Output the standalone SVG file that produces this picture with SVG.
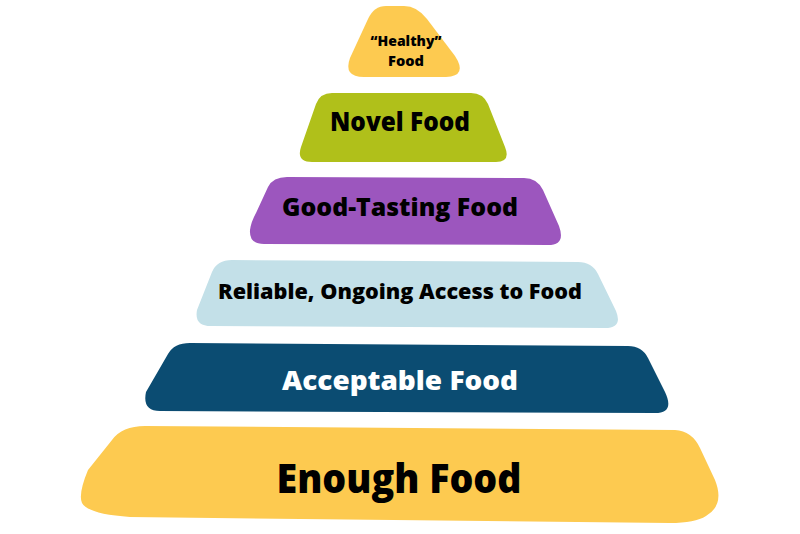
<svg xmlns="http://www.w3.org/2000/svg" width="800" height="534" viewBox="0 0 800 534">
<style>
.lbl{font-family:"Open Sans","Noto Sans","Liberation Sans",sans-serif;font-weight:800;text-anchor:middle;fill:#000000}
.yellow{fill:#FDCA50}
.green{fill:#B0C01A}
.purple{fill:#9C56BE}
.blue{fill:#C3E0E8}
.navy{fill:#0B4C72}
</style>
<rect width="800" height="534" fill="#FFFFFF"/>
<g id="healthy">
<path class="yellow" d="M 386 6 L 404 6 Q 417 6 427 19 L 455 56 Q 468 76 446 77 L 364 77 Q 343 77 350 58 L 368 19 Q 374 6 386 6 Z"/>
<text class="lbl" x="406" y="46" font-size="14.5" textLength="71" lengthAdjust="spacingAndGlyphs">“Healthy”</text>
<text class="lbl" x="406" y="66" font-size="14.5" textLength="36" lengthAdjust="spacingAndGlyphs">Food</text>
</g>
<g id="novel">
<path class="green" d="M 332 93 L 471 93 Q 483 93 488 104 L 505 147 Q 511 162 496 162 L 312 162 Q 296 162 301 147 L 316 104 Q 320 93 332 93 Z"/>
<text class="lbl" x="400" y="131" font-size="26" textLength="140" lengthAdjust="spacingAndGlyphs">Novel Food</text>
</g>
<g id="goodtasting">
<path class="purple" d="M 287 177 L 524 178 Q 537 178 543 190 L 559 226 Q 566 245 548 245 L 264 244 Q 249 244 250 230 Q 251 222 256 213 L 268 187 Q 273 177 287 177 Z"/>
<text class="lbl" x="400" y="216" font-size="25" textLength="236" lengthAdjust="spacingAndGlyphs">Good-Tasting Food</text>
</g>
<g id="reliable">
<path class="blue" d="M 232 260 L 578 262 Q 592 262 598 274 L 616 311 Q 623 328 605 328 L 211 326 Q 194 326 197 310 L 212 272 Q 217 260 232 260 Z"/>
<text class="lbl" x="400" y="299" font-size="21" textLength="364" lengthAdjust="spacingAndGlyphs">Reliable, Ongoing Access to Food</text>
</g>
<g id="acceptable">
<path class="navy" d="M 190 343 L 628 346 Q 642 346 648 358 L 665 392 Q 675 413 655 413 L 160 411 Q 142 411 146 392 L 168 354 Q 174 343 190 343 Z"/>
<text class="lbl" x="400" y="390" font-size="27" style="fill:#FFFFFF" textLength="236" lengthAdjust="spacingAndGlyphs">Acceptable Food</text>
</g>
<g id="enough">
<path class="yellow" d="M 145 426 L 675 430 Q 692 431 700 448 L 715 480 Q 725 505 706 516 Q 695 523 670 523 L 130 517 Q 88 514 82 503 Q 78 494 88 470 L 112 440 Q 122 426 145 426 Z"/>
<text class="lbl" x="399" y="493" font-size="40" textLength="245" lengthAdjust="spacingAndGlyphs">Enough Food</text>
</g>
<g id="connectors"/>
</svg>
